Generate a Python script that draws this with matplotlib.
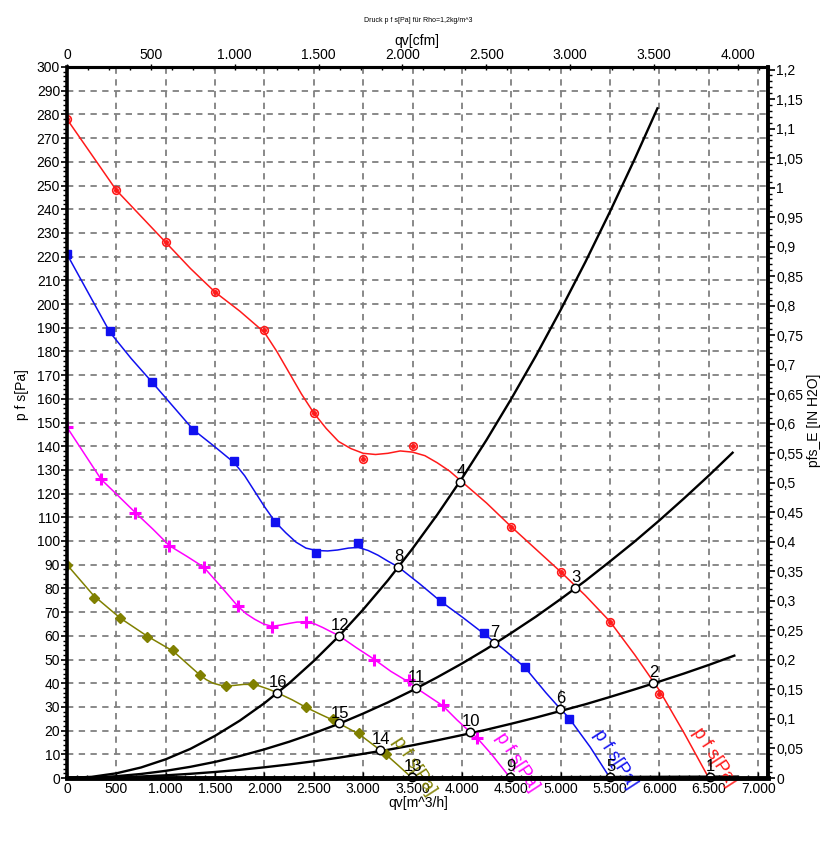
import matplotlib
matplotlib.use("Agg")
import matplotlib.pyplot as plt
from matplotlib.ticker import MultipleLocator, FuncFormatter, FixedLocator

plt.rcParams['font.family'] = ['Liberation Sans', 'DejaVu Sans']

# ---------------- data ----------------
red_x = [0, 250, 500, 750, 1000, 1250, 1500, 1750, 2000, 2125, 2250, 2375, 2500, 2625, 2750, 2875, 3000, 3125, 3250, 3375, 3500, 3625, 3750, 3875, 4000, 4250, 4500, 4750, 5000, 5250, 5500, 5750, 6000, 6250, 6500]
red_y = [278, 263, 248, 237, 226, 215, 205, 197, 188, 180, 171, 162, 154, 147.5, 142, 139, 137, 136.5, 137, 138, 137.5, 136, 133, 129.5, 125, 116, 106, 96.5, 87, 77, 66, 52, 37, 19, 0]
red_mx = [0, 500, 1000, 1500, 2000, 2500, 3000, 3500, 4500, 5000, 5500, 6000]
red_my = [278, 248, 226, 205, 189, 154, 134.5, 140, 106, 87, 66, 35.5]

blue_x = [0, 436, 650, 862, 1070, 1278, 1490, 1694, 1800, 1900, 2000, 2110, 2215, 2320, 2420, 2525, 2640, 2740, 2850, 2950, 3050, 3150, 3250, 3357, 3570, 3783, 4000, 4219, 4430, 4635, 4850, 5000, 5081, 5300, 5500]
blue_y = [221, 188, 177, 167, 157, 147, 140, 133, 127.5, 121, 114.5, 108, 103.5, 99.5, 97, 96, 95.8, 96.2, 97, 97.3, 96, 94, 91.5, 89, 82, 74.6, 68, 61, 54, 46.8, 36, 29, 25.5, 13, 0]
blue_mx = [0, 436, 862, 1278, 1694, 2110, 2525, 2951, 3783, 4219, 4635, 5081]
blue_my = [221, 188.4, 167, 147, 133.6, 108, 95, 99, 74.6, 61, 46.8, 25]

mag_x = [0, 346, 520, 692, 870, 1038, 1215, 1384, 1555, 1730, 1815, 1900, 1990, 2076, 2160, 2245, 2330, 2422, 2510, 2590, 2670, 2756, 2930, 3114, 3280, 3460, 3536, 3806, 3950, 4083, 4152, 4300, 4490]
mag_y = [148, 126, 119, 112, 105, 98, 93.5, 89, 81, 72.5, 69.3, 67, 65, 64, 64.5, 65.2, 65.8, 65.8, 65, 63.5, 61.8, 60, 55, 50, 45, 40.5, 38, 30.5, 24.5, 19.4, 17, 10, 0]
mag_mx = [0, 346, 692, 1038, 1384, 1730, 2076, 2422, 3114, 3460, 3806, 4152]
mag_my = [148, 126, 112, 98, 89, 72.5, 63.6, 66, 49.7, 41.3, 30.8, 16.9]

olive_x = [0, 269, 538, 807, 1076, 1210, 1345, 1410, 1480, 1550, 1614, 1700, 1790, 1883, 1950, 2040, 2128, 2280, 2421, 2560, 2690, 2756, 2959, 3171, 3228, 3350, 3495]
olive_y = [90, 77, 67.5, 60, 53.5, 48.5, 43.5, 41.5, 40, 39.2, 38.8, 39.1, 39.5, 39.5, 38.8, 37.5, 36, 33, 29.8, 27, 24.5, 23, 18.5, 11.8, 10, 5.5, 0]
olive_mx = [0, 269, 538, 807, 1076, 1345, 1614, 1883, 2421, 2690, 2959, 3228]
olive_my = [90, 76, 67.4, 59.4, 54, 43.4, 38.8, 39.6, 30, 24.9, 19, 10]

# system curves (black)
sysA_x = [0, 250, 500, 750, 1000, 1250, 1500, 1750, 2000, 2250, 2500, 2750, 3000, 3250, 3500, 3750, 4000, 4250, 4500, 4750, 5000, 5250, 5500, 5750, 5985]
sysA_y = [0, 0.49, 1.98, 4.44, 7.9, 12.3, 17.8, 24.2, 31.6, 40, 49.4, 59.7, 71.1, 83.4, 96.8, 111.1, 126.4, 142.7, 160, 178.2, 197.5, 217.7, 239, 261.2, 283]
sysB_x = [0, 250, 500, 750, 1000, 1250, 1500, 1750, 2000, 2250, 2500, 2750, 3000, 3250, 3500, 3750, 4000, 4250, 4500, 4750, 5000, 5250, 5500, 5750, 6000, 6250, 6500, 6750]
sysB_y = [0, 0.19, 0.76, 1.7, 3.02, 4.72, 6.8, 9.25, 12.1, 15.3, 18.9, 22.8, 27.2, 31.9, 37, 42.5, 48.3, 54.5, 61.2, 68.1, 75.5, 83.2, 91.4, 99.8, 108.7, 118, 127.6, 137.6]
sysC_x = [0, 250, 500, 750, 1000, 1250, 1500, 1750, 2000, 2250, 2500, 2750, 3000, 3250, 3500, 3750, 4000, 4250, 4500, 4750, 5000, 5250, 5500, 5750, 6000, 6250, 6500, 6770]
sysC_y = [0, 0.07, 0.28, 0.64, 1.13, 1.77, 2.54, 3.46, 4.52, 5.72, 7.06, 8.55, 10.2, 11.9, 13.8, 15.9, 18.1, 20.4, 22.9, 25.5, 28.3, 31.1, 34.2, 37.4, 40.7, 44.1, 47.7, 51.8]
sysD_x = [0, 3500, 6800]
sysD_y = [0, 0.2, 0.6]

# operating points
pt_labels = ['1', '2', '3', '4', '5', '6', '7', '8', '9', '10', '11', '12', '13', '14', '15', '16']
pt_x = [6510, 5940, 5147, 3982, 5500, 4995, 4326, 3354, 4488, 4083, 3536, 2756, 3495, 3171, 2756, 2128]
pt_y = [0.4, 40, 80, 125, 0.4, 29, 57, 89, 0.4, 19.4, 38, 60, 0.4, 11.8, 23, 36]

curve_label = 'p f s[Pa]'
label_pos_x = [6330, 5330, 4340, 3300]
label_pos_y = [19.5, 18.5, 17.5, 15.5]

cfm_ticks = [0, 500, 1000, 1500, 2000, 2500, 3000, 3500, 4000]
inh2o_ticks = [0, 0.05, 0.1, 0.15, 0.2, 0.25, 0.3, 0.35, 0.4, 0.45, 0.5, 0.55, 0.6, 0.65, 0.7, 0.75, 0.8, 0.85, 0.9, 0.95, 1.0, 1.05, 1.1, 1.15, 1.2]

title_text = 'Druck p f s[Pa] für Rho=1,2kg/m^3'
xlabel_bottom = 'qv[m^3/h]'
xlabel_top = 'qv[cfm]'
ylabel_left = 'p f s[Pa]'
ylabel_right = 'pfs_E [IN H2O]'

M3H_PER_CFM = 1.699
PA_PER_INH2O = 249.089

# ---------------- figure ----------------
W, H = 837, 849
fig = plt.figure(figsize=(W / 100, H / 100), dpi=100)
L, R, T, B = 67, 768, 67, 778
ax = fig.add_axes([L / W, 1 - B / H, (R - L) / W, (B - T) / H])
ax.set_xlim(0, 7100)
ax.set_ylim(0, 300)

ax.xaxis.set_major_locator(MultipleLocator(500))
ax.xaxis.set_minor_locator(MultipleLocator(100))
ax.yaxis.set_major_locator(MultipleLocator(10))
ax.yaxis.set_minor_locator(MultipleLocator(2))
ax.grid(True, which='major', color='#808080', linestyle=(0, (3.5, 3)), linewidth=1.3)
ax.set_axisbelow(True)

RED = '#FF1A1A'
BLUE = '#1010F0'
MAG = '#FF00FF'
OLIVE = '#808000'

for sx, sy in [(sysA_x, sysA_y), (sysB_x, sysB_y), (sysC_x, sysC_y), (sysD_x, sysD_y)]:
    ax.plot(sx, sy, color='black', lw=1.7, zorder=3, solid_capstyle='butt', solid_joinstyle='round')

ax.plot(red_x, red_y, color=RED, lw=1.1, zorder=4, solid_joinstyle='round')
ax.plot(red_mx, red_my, ls='none', marker='o', ms=5.5, mfc='none', mec=RED, mew=1.2, zorder=5)
ax.plot(red_mx, red_my, ls='none', marker='o', ms=2.6, mfc=RED, mec=RED, zorder=5)

ax.plot(blue_x, blue_y, color=BLUE, lw=1.1, zorder=4, solid_joinstyle='round')
ax.plot(blue_mx, blue_my, ls='none', marker='s', ms=6, mfc=BLUE, mec=BLUE, zorder=5)

ax.plot(mag_x, mag_y, color=MAG, lw=1.1, zorder=4, solid_joinstyle='round')
ax.plot(mag_mx, mag_my, ls='none', marker='+', ms=8, mec=MAG, mew=2.2, zorder=5)

ax.plot(olive_x, olive_y, color=OLIVE, lw=1.1, zorder=4, solid_joinstyle='round')
ax.plot(olive_mx, olive_my, ls='none', marker='D', ms=4.8, mfc=OLIVE, mec=OLIVE, zorder=5)

for lx, ly, col in zip(label_pos_x, label_pos_y, [RED, BLUE, MAG, OLIVE]):
    ax.text(lx, ly, curve_label, color=col, fontsize=13, rotation=-57,
            rotation_mode='anchor', ha='left', va='baseline', zorder=6, clip_on=False)

ax.plot(pt_x, pt_y, ls='none', marker='o', ms=6, mfc='white', mec='black', mew=1.1, zorder=7, clip_on=False)
for lab, px, py in zip(pt_labels, pt_x, pt_y):
    ax.annotate(lab, (px, py), xytext=(0.5, 7.5), textcoords='offset points',
                ha='center', va='center', fontsize=12, color='black', zorder=8)

for side, lw in [('left', 2.6), ('bottom', 3.5), ('top', 2.2), ('right', 2.6)]:
    ax.spines[side].set_linewidth(lw)
    ax.spines[side].set_zorder(9)

thou = FuncFormatter(lambda v, p: f"{int(round(v)):,}".replace(',', '.'))
ax.xaxis.set_major_formatter(thou)
ax.yaxis.set_major_formatter(FuncFormatter(lambda v, p: f"{int(round(v))}"))
ax.tick_params(axis='x', which='major', direction='in', length=4, width=1, labelsize=10, pad=3)
ax.tick_params(axis='x', which='minor', direction='in', length=2.5, width=1)
ax.tick_params(axis='y', which='major', direction='out', length=4, width=1.2, labelsize=10, pad=1)
ax.tick_params(axis='y', which='minor', direction='out', length=3, width=1)

top = ax.secondary_xaxis('top', functions=(lambda x: x / M3H_PER_CFM, lambda c: c * M3H_PER_CFM))
top.xaxis.set_major_locator(FixedLocator(cfm_ticks))
top.xaxis.set_minor_locator(MultipleLocator(125))
top.xaxis.set_major_formatter(thou)
top.tick_params(axis='x', which='major', direction='inout', length=5, width=1, labelsize=10, pad=1)
top.tick_params(axis='x', which='minor', direction='in', length=2.5, width=1)
top.spines['top'].set_linewidth(2.2)

right = ax.secondary_yaxis('right', functions=(lambda p: p / PA_PER_INH2O, lambda i: i * PA_PER_INH2O))
right.yaxis.set_major_locator(FixedLocator(inh2o_ticks))
right.yaxis.set_minor_locator(MultipleLocator(0.01))


def fmt_r(v, p):
    s = f"{v:.2f}".rstrip('0').rstrip('.')
    if s in ('-0', ''):
        s = '0'
    return s.replace('.', ',')


right.yaxis.set_major_formatter(FuncFormatter(fmt_r))
right.tick_params(axis='y', which='major', direction='out', length=5, width=1.2, labelsize=10, pad=1)
right.tick_params(axis='y', which='minor', direction='out', length=3, width=1)
right.spines['right'].set_linewidth(2.6)

fig.text(418 / W, 1 - 20 / H, title_text, ha='center', va='center', fontsize=5)
fig.text(417 / W, 1 - 41 / H, xlabel_top, ha='center', va='center', fontsize=10)
fig.text(418 / W, 1 - 803 / H, xlabel_bottom, ha='center', va='center', fontsize=10)
fig.text(22 / W, 1 - 395 / H, ylabel_left, ha='center', va='center', fontsize=10, rotation=90)
fig.text(814 / W, 1 - 420 / H, ylabel_right, ha='center', va='center', fontsize=10, rotation=90)

fig.savefig('out.png', dpi=100, facecolor='white')
